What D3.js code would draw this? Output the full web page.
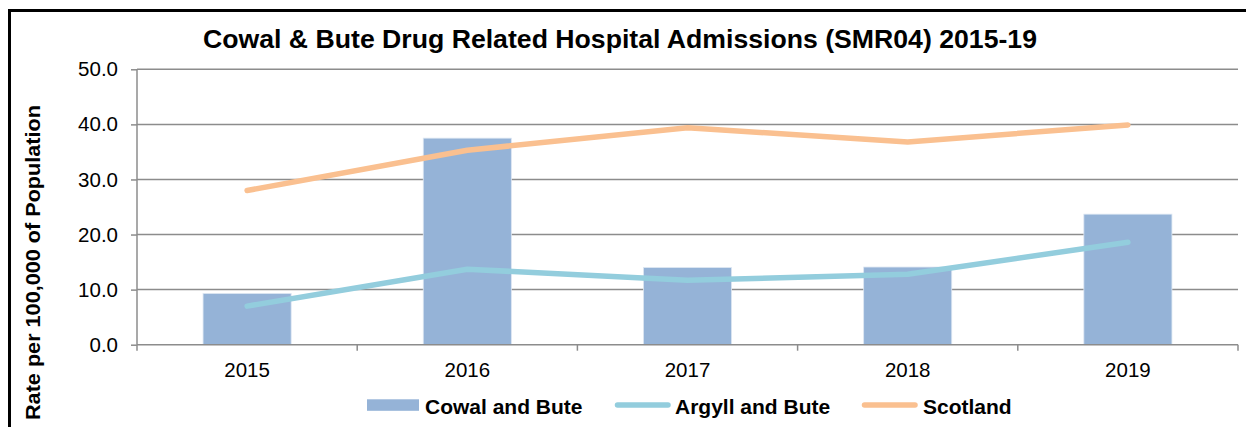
<!DOCTYPE html>
<html><head><meta charset="utf-8">
<script src="https://cdn.jsdelivr.net/npm/d3@7/dist/d3.min.js"></script>
<style>
html,body{margin:0;padding:0;background:#fff;}
svg{display:block;font-family:"Liberation Sans",Arial,sans-serif;}
</style></head>
<body><svg id="c" width="1246" height="427"></svg>
<script>
const years = ["2015","2016","2017","2018","2019"];
const cowalBute = [9.3, 37.5, 14.0, 14.1, 23.7];
const argyllBute = [7.0, 13.7, 11.7, 12.8, 18.6];
const scotland = [28.0, 35.3, 39.4, 36.8, 39.9];
const yTicks = [0, 10, 20, 30, 40, 50];
const seriesNames = ["Cowal and Bute", "Argyll and Bute", "Scotland"];

const svg = d3.select("#c");
const grid = "#8c8c8c";
const colBar = "#95b3d7", colArg = "#93cddd", colSco = "#fac090";

// frame
svg.append("rect").attr("x",9.5).attr("y",10.5).attr("width",1250).attr("height",430)
  .attr("fill","none").attr("stroke","#000").attr("stroke-width",3);

const L = 137, R = 1238, T = 69.3, B = 344.7;
const x = d3.scaleBand().domain(years).range([L, R]).paddingInner(0.6).paddingOuter(0.3);
const xc = d3.scaleBand().domain(years).range([L, R]);
const y = d3.scaleLinear().domain([0, 50]).range([B, T]);

// gridlines
svg.append("g").selectAll("line").data(yTicks.filter(d=>d>0)).join("line")
  .attr("x1", L).attr("x2", R).attr("y1", d=>y(d)).attr("y2", d=>y(d))
  .attr("stroke", grid).attr("stroke-width", 1.5);

// y axis
const ya = svg.append("g").attr("transform",`translate(${L},0)`)
  .call(d3.axisLeft(y).tickValues(yTicks).tickFormat(d3.format(".1f")).tickSize(6).tickPadding(13));
ya.select(".domain").attr("stroke", grid).attr("stroke-width",1.5).attr("d",`M0,${T}V${B}`);
ya.selectAll(".tick line").attr("stroke", grid).attr("stroke-width",1.5);
ya.selectAll(".tick text").attr("font-size",20.5).attr("fill","#000").attr("font-family","Liberation Sans, Arial, sans-serif");

// bars
svg.append("g").selectAll("rect").data(years).join("rect")
  .attr("x", d=>x(d)).attr("width", x.bandwidth())
  .attr("y", (d,i)=>y(cowalBute[i])).attr("height",(d,i)=>B - y(cowalBute[i]))
  .attr("fill", colBar).attr("stroke","#dce6f2").attr("stroke-width",0.8);

// x axis
const xa = svg.append("g").attr("transform",`translate(0,${B})`)
  .call(d3.axisBottom(xc).tickSize(0).tickPadding(18));
xa.select(".domain").attr("stroke", grid).attr("stroke-width",1.5).attr("d",`M${L},0H${R}`);
xa.selectAll(".tick text").attr("font-size",20.5).attr("fill","#000").attr("font-family","Liberation Sans, Arial, sans-serif");
const bounds = years.map(d=>xc(d)).concat([R]);
svg.append("g").selectAll("line").data(bounds).join("line")
  .attr("x1",d=>d).attr("x2",d=>d).attr("y1",B).attr("y2",B+6)
  .attr("stroke",grid).attr("stroke-width",1.5);

// lines
const line = d3.line().x((d,i)=>xc(years[i]) + xc.bandwidth()/2).y(d=>y(d));
svg.append("path").datum(argyllBute).attr("d", line).attr("fill","none")
  .attr("stroke", colArg).attr("stroke-width",5.5).attr("stroke-linecap","round").attr("stroke-linejoin","round");
svg.append("path").datum(scotland).attr("d", line).attr("fill","none")
  .attr("stroke", colSco).attr("stroke-width",5.5).attr("stroke-linecap","round").attr("stroke-linejoin","round");

// title
svg.append("text").attr("x",620).attr("y",47.7).attr("text-anchor","middle")
  .attr("font-size",25).attr("font-weight","bold").attr("fill","#000")
  .attr("textLength",834).attr("lengthAdjust","spacingAndGlyphs")
  .text("Cowal & Bute Drug Related Hospital Admissions (SMR04) 2015-19");

// y title
svg.append("text").attr("transform","translate(39.5,262.5) rotate(-90)").attr("text-anchor","middle")
  .attr("font-size",21).attr("font-weight","bold").attr("fill","#000")
  .attr("textLength",315).attr("lengthAdjust","spacingAndGlyphs")
  .text("Rate per 100,000 of Population");

// legend
const lg = svg.append("g").attr("font-size",21).attr("font-weight","bold");
const lx = [367, 615, 862];
lg.append("rect").attr("x",lx[0]).attr("y",399.3).attr("width",52).attr("height",11.5).attr("fill",colBar);
[[1,colArg],[2,colSco]].forEach(([i,c])=>{
  lg.append("line").attr("x1",lx[i]+2.5).attr("x2",lx[i]+53).attr("y1",405).attr("y2",405)
    .attr("stroke",c).attr("stroke-width",5.5).attr("stroke-linecap","round");
});
const tx = [425, 675, 923];
seriesNames.forEach((n,i)=>{
  lg.append("text").attr("x",tx[i]).attr("y",414).attr("fill","#000").text(n);
});
</script></body></html>
